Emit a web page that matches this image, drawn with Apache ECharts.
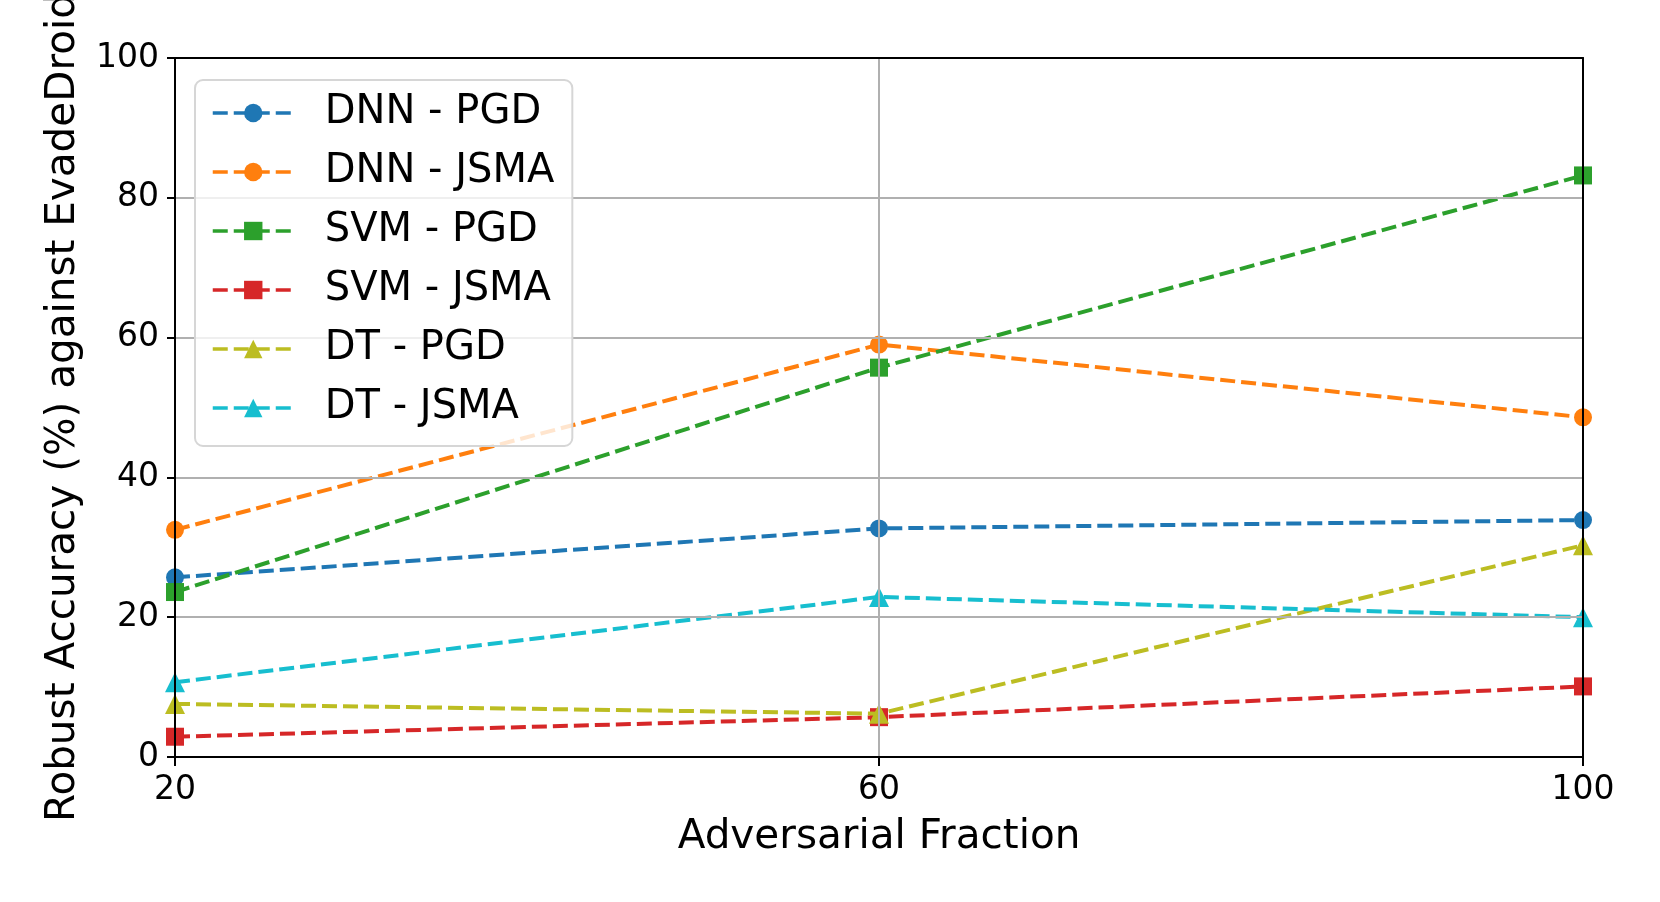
<!DOCTYPE html>
<html>
<head>
<meta charset="utf-8">
<script src="https://cdn.jsdelivr.net/npm/echarts@6/dist/echarts.min.js"></script>
<style>html,body{margin:0;padding:0;background:#fff}#c{width:1660px;height:902px}</style>
</head>
<body>
<div id="c"></div>
<script>
const fractions = [20, 60, 100];
const seriesNames = ['DNN - PGD', 'DNN - JSMA', 'SVM - PGD', 'SVM - JSMA', 'DT - PGD', 'DT - JSMA'];
const dnnPgd  = [25.7, 32.7, 33.9];
const dnnJsma = [32.5, 59.0, 48.6];
const svmPgd  = [23.6, 55.7, 83.2];
const svmJsma = [2.9, 5.7, 10.1];
const dtPgd   = [7.6, 6.2, 30.3];
const dtJsma  = [10.7, 22.9, 20.0];
const yTicks = [0, 20, 40, 60, 80, 100];

const colors = ['#1f77b4', '#ff7f0e', '#2ca02c', '#d62728', '#bcbd22', '#17becf'];
const symbols = ['circle', 'circle', 'rect', 'rect', 'triangle', 'triangle'];
const values = [dnnPgd, dnnJsma, svmPgd, svmJsma, dtPgd, dtJsma];
const FONT = 'DejaVu Sans';

const chart = echarts.init(document.getElementById('c'), null, {renderer: 'canvas'});
chart.setOption({
  animation: false,
  backgroundColor: '#ffffff',
  textStyle: {fontFamily: FONT},
  grid: {left: 175, right: 77, top: 58, bottom: 145, outerBoundsMode: 'none', containLabel: false},
  xAxis: [{
    type: 'value', min: 20, max: 100, interval: 40,
    name: 'Adversarial Fraction', nameLocation: 'middle', nameGap: 60,
    nameTextStyle: {fontSize: 40.5, color: '#000', fontFamily: FONT},
    axisLine: {show: true, lineStyle: {color: '#000', width: 2}},
    axisTick: {show: true, inside: false, length: 9, lineStyle: {color: '#000', width: 2}},
    axisLabel: {fontSize: 33, color: '#000', margin: 17, fontFamily: FONT},
    splitLine: {show: true, lineStyle: {color: '#b0b0b0', width: 2}},
    z: 10
  }, {
    type: 'value', min: 20, max: 100, position: 'top',
    axisLine: {show: true, onZero: false, lineStyle: {color: '#000', width: 2}},
    axisTick: {show: false}, axisLabel: {show: false}, splitLine: {show: false},
    z: 10
  }],
  yAxis: [{
    type: 'value', min: yTicks[0], max: yTicks[yTicks.length - 1], interval: 20,
    name: 'Robust Accuracy (%) against EvadeDroid', nameLocation: 'middle', nameGap: 91,
    nameTextStyle: {fontSize: 40.5, color: '#000', fontFamily: FONT},
    axisLine: {show: true, lineStyle: {color: '#000', width: 2}},
    axisTick: {show: true, inside: false, length: 8, lineStyle: {color: '#000', width: 2}},
    axisLabel: {fontSize: 33, color: '#000', margin: 16, fontFamily: FONT},
    splitLine: {show: true, lineStyle: {color: '#b0b0b0', width: 2}},
    z: 10
  }, {
    type: 'value', min: yTicks[0], max: yTicks[yTicks.length - 1], position: 'right',
    axisLine: {show: true, onZero: false, lineStyle: {color: '#000', width: 2}},
    axisTick: {show: false}, axisLabel: {show: false}, splitLine: {show: false},
    z: 10
  }],
  legend: {
    orient: 'vertical', left: 195, top: 80,
    padding: [13, 18, 18, 16],
    itemWidth: 81, itemHeight: 23, itemGap: 19,
    lineStyle: {width: 3.5},
    backgroundColor: 'rgba(255,255,255,0.8)', borderColor: '#d6d6d6', borderWidth: 2, borderRadius: 8,
    textStyle: {fontSize: 40, color: '#000', fontFamily: FONT, lineHeight: 40, padding: [0, 0, 0, 26]},
    data: seriesNames,
    z: 20
  },
  series: seriesNames.map((n, i) => ({
    name: n, type: 'line',
    xAxisIndex: 0, yAxisIndex: 0,
    data: fractions.map((f, j) => [f, values[i][j]]),
    symbol: symbols[i], symbolSize: i >= 4 ? 20 : 18,
    showSymbol: true,
    lineStyle: {color: colors[i], width: 4, type: [15, 6]},
    itemStyle: {color: colors[i], borderWidth: 0},
    z: 3 + i,
    clip: false
  }))
});
</script>
</body>
</html>
